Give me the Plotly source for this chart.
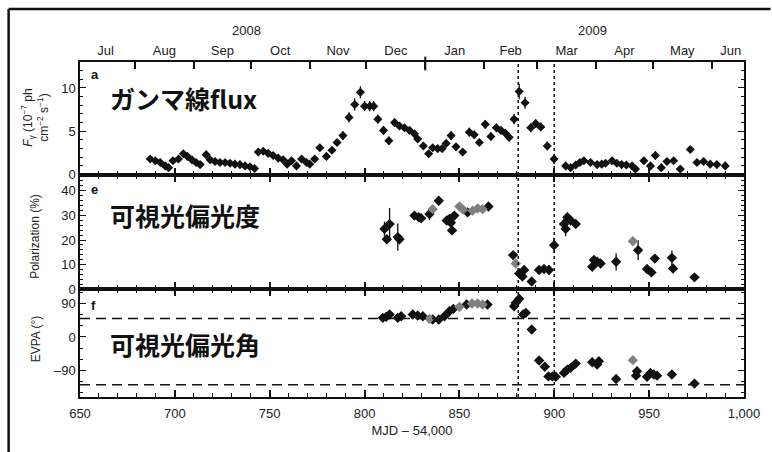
import plotly.graph_objects as go

# ---------------- data ----------------
# Fermi gamma-ray flux (10^-7 ph cm^-2 s^-1)
gamma_mjd = [687, 689.7, 692.3, 694.9, 696.7, 699, 701.9, 704.5, 706.6, 709, 711.2, 713.3,
             716.5, 718.6, 721.2, 723.8, 726.5, 729.1, 731.7, 734.3, 737, 739.6, 742,
             744, 746.6, 749.2, 751.8, 754.5, 757.1, 759.2, 761.5, 764.1, 766.8, 769.4,
             771.1, 773.7, 776.4, 779.9, 782.8, 785.5, 788.6, 791.8, 794.8, 797.8, 800,
             802.7, 804.8, 807, 810, 812.8, 815.8, 818.4, 821, 823.7, 826.3, 828, 831,
             833.8, 835.9, 838.5, 840.9, 843, 845.6, 848.2, 851.7, 855.2, 857.8, 860.5,
             863.6, 866.6, 869.5, 871.9, 874.1, 876.2, 878.8, 881.5, 884.6, 887.6, 890.2,
             892.9, 896.3, 899.9, 906, 908.6, 911.3, 913.5, 915.6, 919.1, 922.6, 925,
             927, 930.5, 933, 935.5, 938, 941, 942.8, 947.2, 950.7, 953.3, 956.4, 959.4,
             962.9, 966.4, 971.7, 975.2, 978.7, 982.2, 985.7, 990.1]
gamma_flux = [1.8, 1.6, 1.4, 1.0, 0.8, 1.6, 1.8, 2.4, 2.1, 1.7, 1.4, 1.15,
              2.3, 1.7, 1.5, 1.4, 1.4, 1.3, 1.2, 1.15, 1.0, 0.9, 0.7,
              2.6, 2.7, 2.45, 2.2, 1.9, 1.7, 1.2, 1.6, 1.0, 1.8, 1.4,
              1.2, 1.8, 3.1, 2.1, 2.8, 3.7, 4.5, 6.6, 8.1, 9.5, 7.9,
              7.9, 7.9, 6.4, 5.1, 3.9, 6.0, 5.6, 5.4, 5.1, 4.7, 4.1, 3.3,
              2.4, 3.1, 3.0, 3.0, 3.6, 4.5, 3.2, 2.6, 4.9, 4.6, 3.7,
              5.8, 4.4, 5.4, 5.1, 4.8, 4.3, 6.4, 9.6, 8.3, 5.4, 5.9,
              5.5, 3.3, 1.8, 1.0, 0.8, 1.1, 1.4, 1.6, 1.4, 1.15, 1.2,
              1.3, 1.6, 1.3, 1.15, 1.1, 1.0, 0.65, 1.6, 1.0, 2.2, 0.8, 1.5,
              1.6, 0.65, 2.9, 1.4, 1.5, 1.2, 1.15, 1.0]
gamma_err = [0.3, 0.3, 0.3, 0.3, 0.3, 0.3, 0.3, 0.3, 0.3, 0.3, 0.3, 0.3,
             0.3, 0.3, 0.3, 0.3, 0.3, 0.3, 0.3, 0.3, 0.3, 0.3, 0.3,
             0.4, 0.4, 0.3, 0.3, 0.3, 0.3, 0.3, 0.3, 0.3, 0.3, 0.3,
             0.3, 0.3, 0.4, 0.3, 0.4, 0.4, 0.5, 0.6, 0.7, 0.7, 0.6,
             0.6, 0.6, 0.5, 0.5, 0.5, 0.5, 0.4, 0.4, 0.4, 0.4, 0.4, 0.4,
             0.4, 0.4, 0.4, 0.4, 0.4, 0.5, 0.4, 0.4, 0.5, 0.5, 0.4,
             0.5, 0.5, 0.5, 0.4, 0.4, 0.4, 0.6, 0.9, 0.7, 0.5, 0.5,
             0.5, 0.5, 0.6, 0.4, 0.3, 0.3, 0.3, 0.3, 0.3, 0.3, 0.3,
             0.3, 0.3, 0.3, 0.3, 0.3, 0.3, 0.4, 0.3, 0.3, 0.5, 0.4, 0.3,
             0.3, 0.4, 0.4, 0.3, 0.3, 0.3, 0.3, 0.3]

# Optical polarization degree (%)
pol_mjd = [810.5, 811.7, 813.2, 817.5, 818.4, 826.3, 828.6, 829.8, 834.2, 839.1, 843.3,
           844.7, 845.5, 846.1, 847.3, 854.3, 865.3, 878.3, 881.5, 883.2, 884.1, 888.1,
           892, 894.6, 897.2, 899.9, 905.1, 906, 906.9, 908.6, 911.3, 920, 920.9, 922.6,
           924.4, 932.6, 944.2, 948.9, 951.2, 953, 962, 962.6, 973.9]
pol_pct = [24.5, 20.3, 26.5, 21.2, 20.3, 29.9, 29.2, 28.8, 30.5, 35.9, 27.9,
           28.5, 27.0, 23.9, 29.9, 31.2, 33.6, 13.9, 6.5, 5.2, 7.9, 3.2,
           7.9, 8.3, 7.9, 17.9, 26.5, 24.5, 29.2, 27.9, 26.5, 9.2, 11.9, 11.2,
           10.5, 11.2, 15.9, 8.3, 6.9, 12.5, 12.8, 8.5, 4.9]
pol_err = [3, 1.5, 6.5, 5.5, 2, 1, 1, 1, 2.5, 0.8, 1.5,
           1.5, 1.5, 1, 1, 1, 1, 1, 2, 1.5, 1, 1,
           1.5, 1.5, 2, 3, 2, 3, 1.5, 1, 1, 1, 1, 1,
           1, 3.5, 4, 1, 1, 0.8, 3, 1, 0.8]
pol2_mjd = [835.9, 850, 852, 856.9, 859.6, 862.2, 879.7, 941.4]
pol2_pct = [32.5, 33.6, 32.3, 31.9, 32.8, 32.5, 10.5, 19.5]

# Optical electric-vector position angle (deg)
evpa_mjd = [809.6, 811.4, 813.2, 817.5, 819.3, 825.4, 828, 830.7, 835.9, 839.1, 842.1,
            844.7, 846.8, 853.8, 864.8, 878.8, 879.7, 881.5, 883.6, 885, 888.1, 892,
            895, 896.9, 899, 900.8, 905.1, 906.9, 908.6, 911.3, 920, 922.6, 923.5,
            932.6, 943.1, 943.6, 948.9, 950.7, 952.5, 954.2, 962, 973.9]
evpa_deg = [51.9, 54.6, 60.9, 51.9, 56.3, 60.9, 58.2, 56.3, 47.3, 47.3, 56.3,
            69.8, 76.4, 88, 88, 83.4, 92.7, 103.5, 60.9, 65.5, 20.1, -64,
            -81, -107, -107, -108, -97.6, -88.6, -84, -72.3, -68.7, -75, -66,
            -114, -105, -93, -108, -97.6, -102, -105, -102, -126.6]
evpa_err = [2, 2, 3, 2, 2, 2, 2, 2, 2, 2, 2,
            2, 2, 2, 2, 3, 3, 4, 3, 3, 8, 3,
            3, 4, 4, 8, 3, 3, 3, 3, 3, 3, 3,
            4, 3, 3, 3, 3, 3, 3, 3, 3]
evpa2_mjd = [834.2, 850, 856.6, 859.6, 862.2, 941.4]
evpa2_deg = [49.2, 81.8, 90.8, 90.8, 88, -63]

# calendar axis: month boundaries (MJD - 54,000) and label positions
month_starts = [679, 710, 740, 771, 801, 832, 863, 891, 922, 952, 983]
month_mid = [663.5, 694.5, 725, 755.5, 786, 816.5, 847.5, 877, 906.5, 937, 967.5, 993]
month_names = ["Jul", "Aug", "Sep", "Oct", "Nov", "Dec", "Jan", "Feb", "Mar", "Apr", "May", "Jun"]
year_pos = [738, 920]
year_names = ["2008", "2009"]
year_boundary = 832

flare_lines = [881, 900]
evpa_ref = [50, -130]

# ---------------- figure ----------------
FONT = "Liberation Sans, Arial, Helvetica, sans-serif"
CJK = "Noto Sans CJK JP, sans-serif"
INK = "#111111"
GREY = "#808080"

fig = go.Figure()

def pts(x, y, err, xa, ya, color, size=7, errx=None):
    fig.add_trace(go.Scatter(
        x=x, y=y, mode="markers", xaxis=xa, yaxis=ya,
        marker=dict(symbol="diamond", size=size, color=color, line=dict(width=0)),
        error_y=dict(type="data", array=err, visible=err is not None,
                     color=color, thickness=1.3, width=0),
        error_x=dict(type="constant", value=errx or 0, visible=errx is not None,
                     color=color, thickness=1.3, width=0),
        showlegend=False, hoverinfo="x+y"))

pts(gamma_mjd, gamma_flux, gamma_err, "x", "y", INK, size=7, errx=1.3)
pts(pol_mjd, pol_pct, pol_err, "x2", "y2", INK, size=8)
pts(pol2_mjd, pol2_pct, None, "x2", "y2", GREY, size=8)
pts(evpa_mjd, evpa_deg, evpa_err, "x3", "y3", INK, size=8)
pts(evpa2_mjd, evpa2_deg, None, "x3", "y3", GREY, size=8)

# hidden traces so the overlaying calendar axes are drawn
for xa in ("x4", "x5"):
    fig.add_trace(go.Scatter(x=[650, 1000], y=[0, 0], xaxis=xa, yaxis="y",
                             mode="markers", marker=dict(opacity=0),
                             showlegend=False, hoverinfo="skip"))

dom_a = [0.664, 1.0]
dom_e = [0.321, 0.664]
dom_f = [0.0, 0.321]

xcommon = dict(range=[650, 1000], showline=True, linecolor=INK, linewidth=2,
               ticks="inside", ticklen=7, tickwidth=1.5, tickcolor=INK,
               tickvals=list(range(650, 1001, 50)),
               minor=dict(dtick=10, tick0=650, ticks="inside", ticklen=4,
                          tickwidth=1.2, tickcolor=INK),
               showgrid=False, zeroline=False,
               tickfont=dict(family=FONT, size=13, color="#222"))
ycommon = dict(showline=True, linecolor=INK, linewidth=1.5, mirror="ticks",
               ticks="inside", ticklen=6, tickwidth=1.3, tickcolor=INK,
               showgrid=False, zeroline=False,
               tickfont=dict(family=FONT, size=13, color="#222"))

fig.update_layout(
    width=772, height=452,
    margin=dict(l=80, r=26, t=62, b=55),
    paper_bgcolor="white", plot_bgcolor="white",
    xaxis=dict(xcommon, anchor="y", domain=[0, 1], showticklabels=False, mirror=True),
    xaxis2=dict(xcommon, anchor="y2", domain=[0, 1], showticklabels=False, mirror="ticks"),
    xaxis3=dict(xcommon, anchor="y3", domain=[0, 1], mirror="ticks", tickformat=",d",
                ticklabelstandoff=3,
                title=dict(text="MJD – 54,000", font=dict(family=FONT, size=13, color="#222"),
                           standoff=6)),
    xaxis4=dict(overlaying="x", anchor="y", side="top", range=[650, 1000],
                tickvals=month_starts, ticks="inside", ticklen=7, tickwidth=1.5,
                tickcolor=INK, showticklabels=False, showline=False, showgrid=False,
                zeroline=False),
    xaxis5=dict(overlaying="x", anchor="y", side="top", range=[650, 1000],
                tickvals=month_mid, ticktext=month_names, ticks="", showline=False,
                showgrid=False, zeroline=False, ticklabelstandoff=3,
                tickfont=dict(family=FONT, size=13, color="#222")),
    yaxis=dict(ycommon, anchor="x", domain=dom_a, range=[0, 13], tickvals=[0, 5, 10],
               minor=dict(dtick=1, ticks="inside", ticklen=3, tickcolor=INK)),
    yaxis2=dict(ycommon, anchor="x2", domain=dom_e, range=[0, 46.5],
                tickvals=[0, 10, 20, 30, 40],
                minor=dict(dtick=2, ticks="inside", ticklen=3, tickcolor=INK)),
    yaxis3=dict(ycommon, anchor="x3", domain=dom_f, range=[-163, 129],
                tickvals=[-90, 0, 90], ticktext=["–90", "0", "90"],
                minor=dict(dtick=30, tick0=0, ticks="inside", ticklen=3, tickcolor=INK)),
)

shapes = []
# vertical markers of the flare interval, through all panels
for xv in flare_lines:
    shapes.append(dict(type="line", xref="x", yref="paper", x0=xv, x1=xv, y0=0, y1=1,
                       line=dict(color=INK, width=1.5, dash="dot")))
# reference EVPA levels
for yv in evpa_ref:
    shapes.append(dict(type="line", xref="x3", yref="y3", x0=650, x1=1000, y0=yv, y1=yv,
                       line=dict(color=INK, width=1.5, dash="10px,6px")))
# year boundary tick on the calendar axis
shapes.append(dict(type="line", xref="x", yref="paper", x0=year_boundary, x1=year_boundary,
                   y0=0.975, y1=1.016, line=dict(color=INK, width=2)))
# outer frame (top and left edges)
shapes.append(dict(type="line", xref="paper", yref="paper", x0=-0.1075, x1=1.04,
                   y0=1.158, y1=1.158, line=dict(color=INK, width=2.5)))
shapes.append(dict(type="line", xref="paper", yref="paper", x0=-0.1075, x1=-0.1075,
                   y0=1.158, y1=-0.2, line=dict(color=INK, width=2.5)))
fig.update_layout(shapes=shapes)

ann = []
for xp, name in zip(year_pos, year_names):
    ann.append(dict(x=xp, xref="x", y=1.095, yref="paper", text=name, showarrow=False,
                    font=dict(family=FONT, size=13, color="#222"), yanchor="middle"))
# panel letters
for yp, ya, lab in [(12.6, "y", "a"), (44.5, "y2", "e"), (111, "y3", "f")]:
    ann.append(dict(x=655, xref="x", y=yp, yref=ya, text=f"<b>{lab}</b>", showarrow=False,
                    xanchor="left", yanchor="top",
                    font=dict(family=FONT, size=13, color=INK)))
# panel captions
for yp, ya, txt in [(8.85, "y", "ガンマ線flux"), (30, "y2", "可視光偏光度"),
                    (-18, "y3", "可視光偏光角")]:
    ann.append(dict(x=665, xref="x", y=yp, yref=ya, text=f"<b>{txt}</b>", showarrow=False,
                    xanchor="left", yanchor="middle",
                    font=dict(family=CJK, size=25, color=INK)))
# y-axis titles
ann.append(dict(x=-0.067, xref="paper", y=6.5, yref="y", textangle=-90, showarrow=False,
                text="<i>F</i><sub>γ</sub> (10<sup>−7</sup> ph<br>cm<sup>−2</sup> s<sup>−1</sup>)",
                font=dict(family=FONT, size=12, color="#222"), xanchor="center", yanchor="middle"))
ann.append(dict(x=-0.067, xref="paper", y=21.5, yref="y2", textangle=-90, showarrow=False,
                text="Polarization (%)",
                font=dict(family=FONT, size=12, color="#222"), xanchor="center", yanchor="middle"))
ann.append(dict(x=-0.067, xref="paper", y=-5, yref="y3", textangle=-90, showarrow=False,
                text="EVPA (°)",
                font=dict(family=FONT, size=12, color="#222"), xanchor="center", yanchor="middle"))
fig.update_layout(annotations=ann)

fig.write_html("out.html")
